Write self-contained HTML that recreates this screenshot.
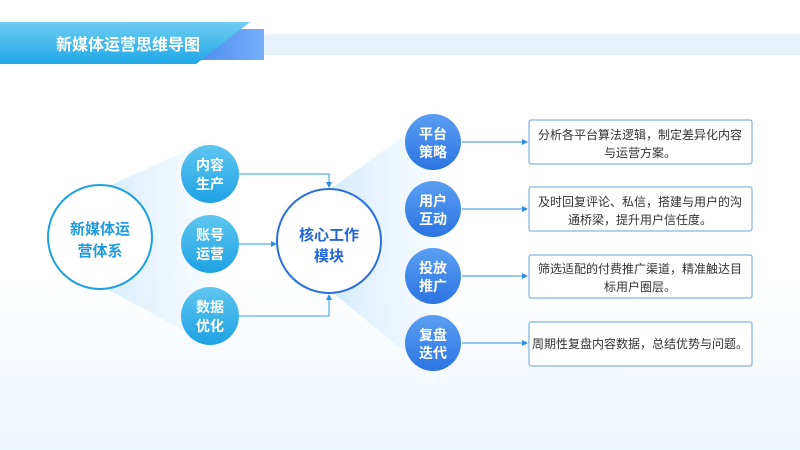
<!DOCTYPE html>
<html><head><meta charset="utf-8"><style>
body{margin:0;width:800px;height:450px;overflow:hidden;background:linear-gradient(180deg,#fff 0%,#fff 60%,#eef6fd 100%);font-family:"Liberation Sans","Noto Sans CJK SC",sans-serif;}
svg{position:absolute;left:0;top:0}
</style></head><body>
<svg width="800" height="450" viewBox="0 0 800 450">
<defs>
<linearGradient id="hd" x1="0" y1="0" x2="0" y2="1"><stop offset="0" stop-color="#6fcdf2"/><stop offset="1" stop-color="#1fa7e6"/></linearGradient>
<linearGradient id="hd2" x1="0" y1="0" x2="1" y2="0"><stop offset="0" stop-color="#4e8ef0"/><stop offset="1" stop-color="#76aef7"/></linearGradient>
<linearGradient id="sc" x1="0" y1="0" x2="0" y2="1"><stop offset="0" stop-color="#5ec6f0"/><stop offset="1" stop-color="#1fa2e4"/></linearGradient>
<linearGradient id="rc" x1="0" y1="0" x2="0" y2="1"><stop offset="0" stop-color="#5a9ff2"/><stop offset="1" stop-color="#2c74e2"/></linearGradient>
<linearGradient id="fan" x1="0" y1="0" x2="1" y2="0"><stop offset="0" stop-color="#cfe9fa" stop-opacity=".9"/><stop offset="1" stop-color="#e8f4fd" stop-opacity=".3"/></linearGradient>
<marker id="a" markerWidth="6" markerHeight="6" refX="5" refY="3" orient="auto"><path d="M0,0L6,3L0,6z" fill="#2b8fe0"/></marker>
</defs>
<rect x="264" y="34" width="536" height="21" fill="#e6f3fc"/>
<polygon points="200,29 264,29 264,60 200,60" fill="url(#hd2)"/>
<polygon points="0,22 250,22 196,64 0,64" fill="url(#hd)"/>
<text x="128" y="50" font-size="16" font-weight="bold" fill="#fff" text-anchor="middle">新媒体运营思维导图</text>
<polygon points="100,190 210,140 210,345 100,285" fill="url(#fan)"/>
<polygon points="329,190 440,110 440,380 329,290" fill="url(#fan)"/>
<circle cx="100" cy="237" r="52" fill="#fff" stroke="#1ea0e0" stroke-width="2"/>
<text x="100" y="243" font-size="15" font-weight="bold" fill="#1e9be0" text-anchor="middle"><tspan x="100" y="234">新媒体运</tspan><tspan x="100" y="256">营体系</tspan></text>
<g stroke="#2b9fe0" stroke-width="1" fill="none">
<polyline points="239,174 329,174 329,187" marker-end="url(#a)"/>
<line x1="239" y1="244" x2="276" y2="244" marker-end="url(#a)"/>
<polyline points="239,316 329,316 329,295" marker-end="url(#a)"/>
</g>
<g font-size="14" font-weight="bold" fill="#fff" text-anchor="middle">
<circle cx="210" cy="174" r="29" fill="url(#sc)"/><text><tspan x="210" y="170">内容</tspan><tspan x="210" y="189">生产</tspan></text>
<circle cx="210" cy="244" r="29" fill="url(#sc)"/><text><tspan x="210" y="240">账号</tspan><tspan x="210" y="259">运营</tspan></text>
<circle cx="210" cy="316" r="29" fill="url(#sc)"/><text><tspan x="210" y="312">数据</tspan><tspan x="210" y="331">优化</tspan></text>
</g>
<circle cx="329" cy="241" r="52" fill="#fff" stroke="#2a6fdc" stroke-width="2"/>
<text font-size="15" font-weight="bold" fill="#2466d6" text-anchor="middle"><tspan x="329" y="240">核心工作</tspan><tspan x="329" y="261">模块</tspan></text>
<g stroke="#2b8fe0" stroke-width="1">
<line x1="462" y1="142" x2="527" y2="142" marker-end="url(#a)"/>
<line x1="462" y1="209" x2="527" y2="209" marker-end="url(#a)"/>
<line x1="462" y1="276" x2="527" y2="276" marker-end="url(#a)"/>
<line x1="462" y1="343" x2="527" y2="343" marker-end="url(#a)"/>
</g>
<g font-size="14" font-weight="bold" fill="#fff" text-anchor="middle">
<circle cx="433" cy="142" r="28" fill="url(#rc)"/><text><tspan x="433" y="139">平台</tspan><tspan x="433" y="157">策略</tspan></text>
<circle cx="433" cy="209" r="28" fill="url(#rc)"/><text><tspan x="433" y="206">用户</tspan><tspan x="433" y="224">互动</tspan></text>
<circle cx="433" cy="276" r="28" fill="url(#rc)"/><text><tspan x="433" y="273">投放</tspan><tspan x="433" y="291">推广</tspan></text>
<circle cx="433" cy="343" r="28" fill="url(#rc)"/><text><tspan x="433" y="340">复盘</tspan><tspan x="433" y="358">迭代</tspan></text>
</g>
<g fill="#fff" stroke="#6a9fe0" stroke-width="1">
<rect x="529" y="120" width="223" height="44" rx="2"/>
<rect x="529" y="187" width="223" height="44" rx="2"/>
<rect x="529" y="255" width="223" height="43" rx="2"/>
<rect x="529" y="322" width="223" height="44" rx="2"/>
</g>
<g font-size="12" fill="#333" text-anchor="middle">
<text><tspan x="640" y="139">分析各平台算法逻辑，制定差异化内容</tspan><tspan x="640" y="157">与运营方案。</tspan></text>
<text><tspan x="640" y="206">及时回复评论、私信，搭建与用户的沟</tspan><tspan x="640" y="224">通桥梁，提升用户信任度。</tspan></text>
<text><tspan x="640" y="273">筛选适配的付费推广渠道，精准触达目</tspan><tspan x="640" y="291">标用户圈层。</tspan></text>
<text x="640" y="348">周期性复盘内容数据，总结优势与问题。</text>
</g>
</svg>
</body></html>
